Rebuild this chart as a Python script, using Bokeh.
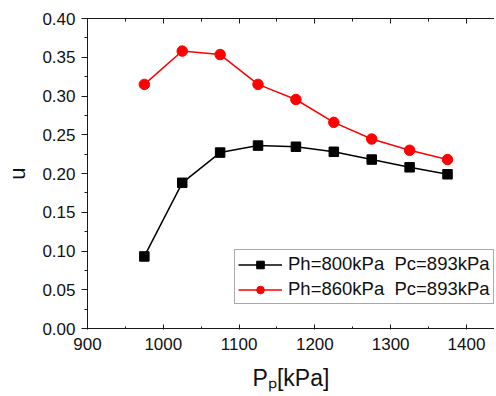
from bokeh.plotting import figure
from bokeh.models import Range1d, LinearAxis, Legend, LegendItem, FixedTicker, PrintfTickFormatter
from bokeh.embed import file_html
from bokeh.resources import INLINE

x_vals = [975, 1025, 1075, 1125, 1175, 1225, 1275, 1325, 1375]
u_800 = [0.093, 0.188, 0.227, 0.236, 0.2345, 0.228, 0.218, 0.208, 0.199]
u_860 = [0.315, 0.358, 0.3535, 0.315, 0.2955, 0.266, 0.2445, 0.230, 0.218]
label_800 = "Ph=800kPa  Pc=893kPa"
label_860 = "Ph=860kPa  Pc=893kPa"
x_ticks = [900, 1000, 1100, 1200, 1300, 1400]
x_minor = [900, 950, 1000, 1050, 1100, 1150, 1200, 1250, 1300, 1350, 1400, 1450]
y_ticks = [0.0, 0.05, 0.10, 0.15, 0.20, 0.25, 0.30, 0.35, 0.40]
y_minor = [0.0, 0.025, 0.05, 0.075, 0.10, 0.125, 0.15, 0.175, 0.20,
           0.225, 0.25, 0.275, 0.30, 0.325, 0.35, 0.375, 0.40]
x_title = "P\u209a[kPa]"
y_title = "u"

FONT = "Liberation Sans"
AX = "#1a1a1a"

p = figure(width=494, height=394, output_backend="svg", toolbar_location=None,
           x_range=Range1d(900, 1437), y_range=Range1d(0, 0.40),
           min_border_left=87, min_border_right=0, min_border_top=18, min_border_bottom=66,
           x_axis_location=None, y_axis_location=None)
p.outline_line_color = None
p.grid.visible = False
p.background_fill_color = "white"
p.border_fill_color = "white"

# left axis
ya = LinearAxis(ticker=FixedTicker(ticks=y_ticks, minor_ticks=y_minor))
ya.formatter = PrintfTickFormatter(format="%.2f")
ya.major_tick_out = 6
ya.major_tick_in = 0
ya.minor_tick_out = 3
ya.minor_tick_in = 0
ya.major_label_text_font = FONT
ya.major_label_text_font_size = "17px"
ya.major_label_text_color = "#111111"
ya.major_label_standoff = 6
ya.axis_label = y_title
ya.axis_label_text_font = FONT
ya.axis_label_text_font_size = "22px"
ya.axis_label_text_font_style = "normal"
ya.axis_label_text_color = "#111111"
ya.axis_label_standoff = 9
ya.axis_line_color = AX
ya.major_tick_line_color = AX
ya.minor_tick_line_color = AX
p.add_layout(ya, "left")

# bottom axis
xa = LinearAxis(ticker=FixedTicker(ticks=x_ticks, minor_ticks=x_minor))
xa.major_tick_out = 1
xa.major_tick_in = 4
xa.minor_tick_out = 0
xa.minor_tick_in = 2
xa.major_label_text_font = FONT
xa.major_label_text_font_size = "17px"
xa.major_label_text_color = "#111111"
xa.major_label_standoff = 8
xa.axis_label = x_title
xa.axis_label_text_font = FONT
xa.axis_label_text_font_size = "23px"
xa.axis_label_text_font_style = "normal"
xa.axis_label_text_color = "#111111"
xa.axis_label_standoff = 12
xa.axis_line_color = AX
xa.major_tick_line_color = AX
xa.minor_tick_line_color = AX
p.add_layout(xa, "below")

# top axis (ticks inward, no labels)
ta = LinearAxis(ticker=FixedTicker(ticks=x_ticks, minor_ticks=x_minor))
ta.major_tick_out = 0
ta.major_tick_in = 5
ta.minor_tick_out = 0
ta.minor_tick_in = 3
ta.major_label_text_font_size = "0px"
ta.major_label_text_alpha = 0
ta.major_label_standoff = 0
ta.axis_line_color = AX
ta.major_tick_line_color = AX
ta.minor_tick_line_color = AX
p.add_layout(ta, "above")

l1 = p.line(x_vals, u_800, line_color="black", line_width=1.5)
s1 = p.scatter(x_vals, u_800, marker="square", size=9.5, fill_color="black", line_color="black")
l2 = p.line(x_vals, u_860, line_color="red", line_width=1.5)
s2 = p.scatter(x_vals, u_860, marker="circle", size=10.5, fill_color="red", line_color="red")

legend = Legend(items=[LegendItem(label=label_800, renderers=[l1, s1]),
                       LegendItem(label=label_860, renderers=[l2, s2])],
                location=(147, 24))
legend.label_text_font = FONT
legend.label_text_font_size = "18.5px"
legend.label_text_color = "#111111"
legend.glyph_width = 44
legend.glyph_height = 19
legend.label_standoff = 6
legend.label_height = 19
legend.spacing = 3
legend.padding = 3
legend.margin = 0
legend.border_line_color = "#555555"
legend.border_line_width = 1
legend.background_fill_alpha = 1
p.add_layout(legend, "center")

open("out.html", "w").write(file_html(p, INLINE))
